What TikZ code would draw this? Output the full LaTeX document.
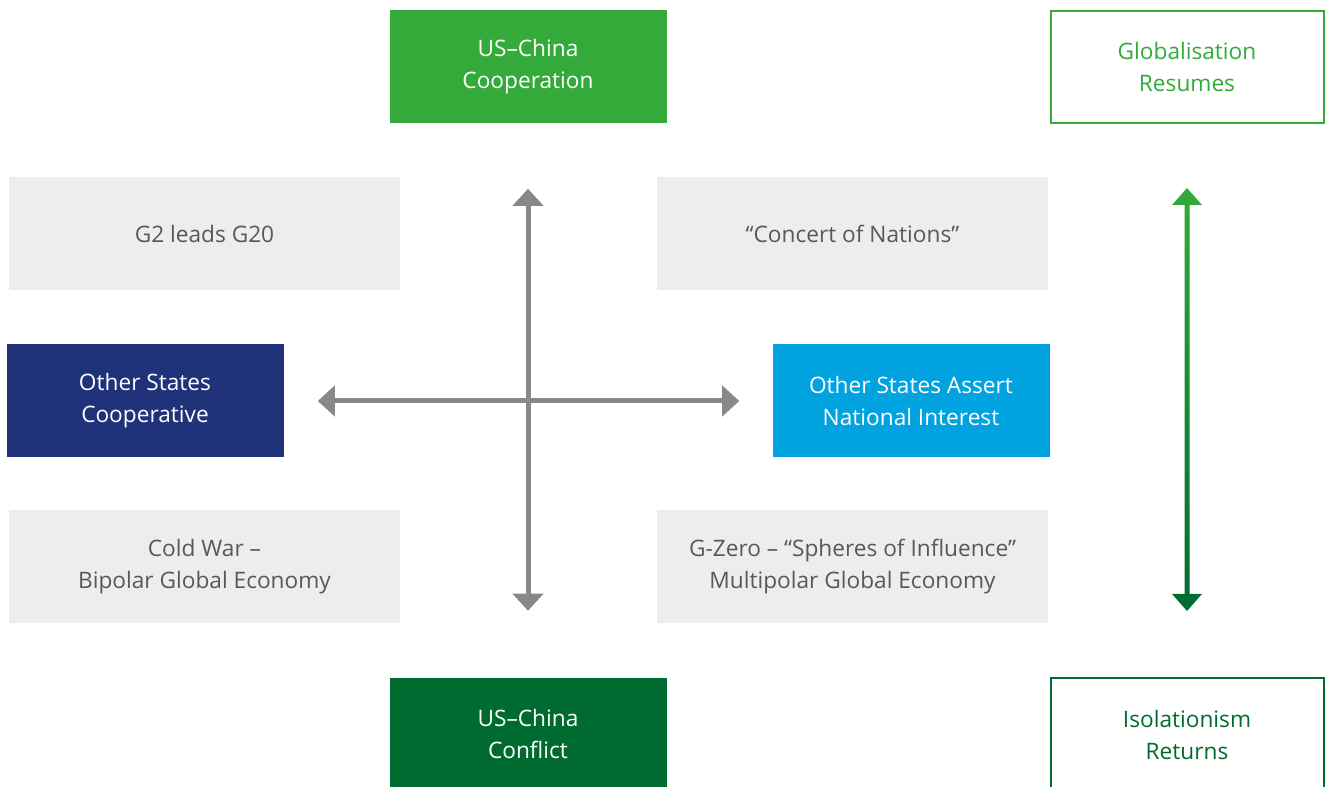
\documentclass[tikz,border=0pt]{standalone}
\usepackage{fontspec}
\setmainfont{Open Sans}
\usetikzlibrary{arrows.meta}
\definecolor{coopgreen}{RGB}{51,170,57}
\definecolor{conflictgreen}{RGB}{0,107,48}
\definecolor{statesnavy}{RGB}{32,50,121}
\definecolor{assertblue}{RGB}{0,163,224}
\definecolor{boxgray}{RGB}{237,237,237}
\definecolor{textgray}{RGB}{88,88,88}
\definecolor{axisgray}{RGB}{136,136,136}
\begin{document}
\begin{tikzpicture}[x=0.75pt,y=-0.75pt,
    box/.style={minimum width=207.75pt, minimum height=84.75pt, inner sep=0pt, align=center,
        font=\fontsize{17}{24}\selectfont, text=white},
    widebox/.style={box, minimum width=293.25pt, fill=boxgray, text=textgray},
    outlinebox/.style={box, minimum width=204.75pt, minimum height=84pt, line width=1.5pt},
    axis/.style={axisgray, line width=3.75pt, {Triangle[width=22.5pt,length=12.75pt]}-{Triangle[width=22.5pt,length=12.75pt]}}]
        \useasboundingbox (0,0) rectangle (1325,787);
        \node[box, fill=coopgreen] (coop) at (528,67) {US--China\\Cooperation};
        \node[box, fill=conflictgreen, minimum height=97.5pt] (conflict) at (528,743) {};
        \node[font=\fontsize{17}{24}\selectfont, text=white, align=center] (conflicttext) at (528,734) {US--China\\Conflict};
        \node[box, fill=statesnavy] (othercoop) at (145,401) {Other States\\Cooperative};
        \node[box, fill=assertblue] (assert) at (911,401) {Other States Assert\\National Interest};
        \node[widebox] (gtwo) at (204.5,234) {G2 leads G20};
        \node[widebox] (concert) at (852.5,234) {“Concert of Nations”};
        \node[widebox] (coldwar) at (204.5,567) {Cold War –\\Bipolar Global Economy};
        \node[widebox] (gzero) at (852.5,567) {G-Zero – “Spheres of Influence”\\Multipolar Global Economy};
        \node[outlinebox, draw=coopgreen, text=coopgreen] (glob) at (1187,67) {Globalisation\\Resumes};
        \node[outlinebox, draw=conflictgreen, text=conflictgreen, minimum height=97.5pt] (iso) at (1187,743) {};
        \node[font=\fontsize{17}{24}\selectfont, text=conflictgreen, align=center] (isotext) at (1187,735) {Isolationism\\Returns};
        % axes
        \draw[axis, shorten <=48.75pt, shorten >=50.25pt] (coop) -- (conflict);
        \draw[axis, shorten <=25.5pt, shorten >=24.75pt] (othercoop) -- (assert);
        % green scale
        \coordinate (gtop) at (1187,188);
        \coordinate (gbot) at (1187,611);
        \shade[top color=coopgreen, bottom color=conflictgreen] (gtop) -- ++(15,17) -- ++(-12.5,0) -- ++(0,389)
            -- ++(12.5,0) -- (gbot) -- ++(-15,-17) -- ++(12.5,0) -- ++(0,-389) -- ++(-12.5,0) -- cycle;
    \end{tikzpicture}
\end{document}
